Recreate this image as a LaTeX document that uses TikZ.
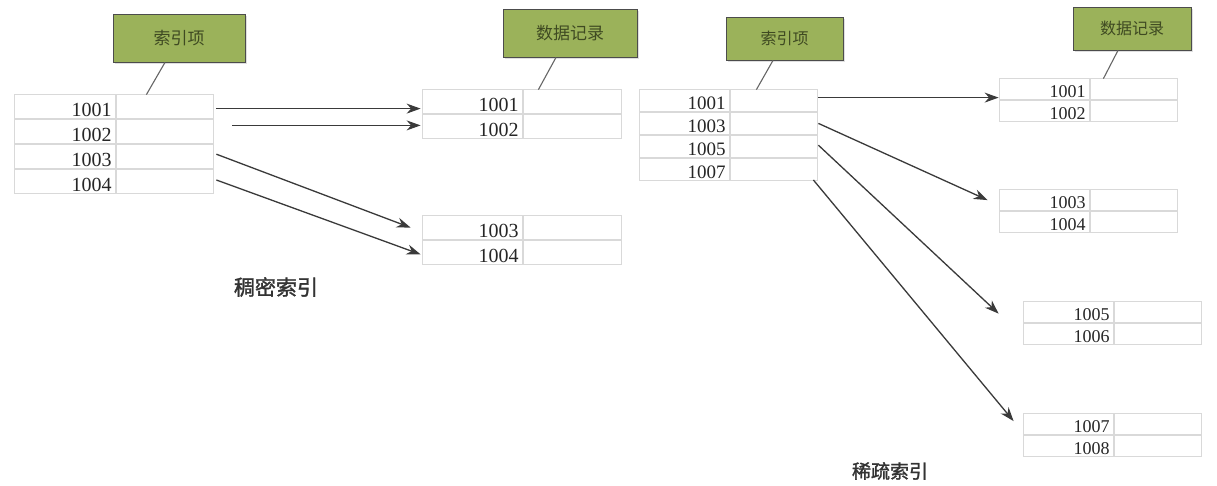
\documentclass[tikz,border=0pt]{standalone}
\usepackage{fontspec}
\setmainfont{Liberation Serif}
\newfontfamily\cjk{Noto Sans CJK SC}
\newfontfamily\cjkbf[FakeBold=1.5]{Noto Sans CJK SC}
\usepackage{tikz}
\usetikzlibrary{matrix}
\usetikzlibrary{shadows}
\usetikzlibrary{arrows.meta}

\definecolor{cellgray}{HTML}{D9D9D9}
\definecolor{boxgreen}{HTML}{9BB25A}
\definecolor{boxtext}{HTML}{3F4A22}
\definecolor{arrowgray}{HTML}{3A3A3A}

\tikzset{
  tbl/.style n args={4}{matrix of nodes, ampersand replacement=\&, nodes in empty cells,
    anchor=north west, inner sep=0pt, column sep=0pt, row sep=0pt,
    nodes={draw=cellgray, line width=0.8pt, outer sep=0pt, inner ysep=0pt, inner xsep=4pt,
      text height=#3pt, text depth=2pt, font=\fontsize{#4}{#4}\selectfont, text=black!85},
    column 1/.style={nodes={text width=#1pt-8pt, align=right}},
    column 2/.style={nodes={minimum width=#2pt}}},
  namebox/.style n args={3}{draw=black!70, line width=0.8pt, fill=boxgreen, text=boxtext,
    minimum width=#1pt, minimum height=#2pt, font=\cjk\fontsize{#3}{#3}\selectfont,
    drop shadow={opacity=0.25, shadow xshift=1.5pt, shadow yshift=-1.5pt}},
  callout/.style={draw=black!60, line width=1.1pt},
  arr/.style={-{Stealth[length=14pt,width=10pt]}, draw=arrowgray, line width=1.3pt}
}

\begin{document}
\begin{tikzpicture}[x=1pt, y=-1pt]
\useasboundingbox (0,0) rectangle (1217,485);
\fill[white] (0,0) rectangle (1217,485);

% dense index
\matrix (di) [tbl={101}{97}{22}{20}] at (14,94) {
1001 \& \\
1002 \& \\
1003 \& \\
1004 \& \\};
\matrix (da) [tbl={100}{98}{22}{20}] at (422,89) {
1001 \& \\
1002 \& \\};
\matrix (db) [tbl={100}{98}{22}{20}] at (422,215) {
1003 \& \\
1004 \& \\};

% sparse index
\matrix (si) [tbl={90}{87}{20}{19}] at (639,89) {
1001 \& \\
1003 \& \\
1005 \& \\
1007 \& \\};
\matrix (sa) [tbl={90}{87}{19}{18}] at (999,78) {
1001 \& \\
1002 \& \\};
\matrix (sb) [tbl={90}{87}{19}{18}] at (999,189) {
1003 \& \\
1004 \& \\};
\matrix (sc) [tbl={90}{87}{19}{18}] at (1023,301) {
1005 \& \\
1006 \& \\};
\matrix (sd) [tbl={90}{87}{19}{18}] at (1023,413) {
1007 \& \\
1008 \& \\};

\node[namebox={132}{48}{17}] (li1) at (179,38) {索引项};
\node[namebox={134}{48}{17}] (ld1) at (570,33) {数据记录};
\node[namebox={117}{43}{16}] (li2) at (784.5,38.5) {索引项};
\node[namebox={118}{43}{16}] (ld2) at (1132,28.5) {数据记录};

\foreach \b/\s/\t/\o in {li1/-14/di-1-2/30, ld1/-14/da-1-2/15, li2/-11.5/si-1-2/26, ld2/-14/sa-1-2/13}
    \draw[callout] ([xshift=\s pt]\b.south) -- ([xshift=\o pt]\t.north west);

\draw[arr] ([xshift=3pt,yshift=-2pt]di-1-2.east) -- ([xshift=-2pt,yshift=-7pt]da-1-1.west);
\draw[arr] ([xshift=19pt,yshift=6pt]di-2-2.east) -- ([xshift=-2pt,yshift=1pt]da-2-1.west);
\draw[arr] ([xshift=3pt,yshift=2pt]di-3-2.east) -- ([xshift=-12pt]db-1-1.west);
\draw[arr] ([xshift=3pt,yshift=1pt]di-4-2.east) -- ([xshift=-2pt,yshift=-2pt]db-2-1.west);

\draw[arr] ([xshift=1pt,yshift=3pt]si-1-2.east) -- ([xshift=-1pt,yshift=-8.5pt]sa-1-1.west);
\draw[arr] ([xshift=1pt]si-2-2.east) -- ([xshift=-12pt]sb-1-1.west);
\draw[arr] ([xshift=1pt,yshift=1pt]si-3-2.east) -- ([xshift=-25pt,yshift=-1.5pt]sc-1-1.west);
\draw[arr] ([xshift=-4pt]si-4-2.south east) -- ([xshift=-10pt,yshift=3pt]sd-1-1.west);

\node[font=\cjkbf\fontsize{21}{21}\selectfont, text=black!80] (t1) at (276,287) {稠密索引};
\node[font=\cjkbf\fontsize{19}{19}\selectfont, text=black!80] (t2) at (890,471) {稀疏索引};
%
\end{tikzpicture}
\end{document}
